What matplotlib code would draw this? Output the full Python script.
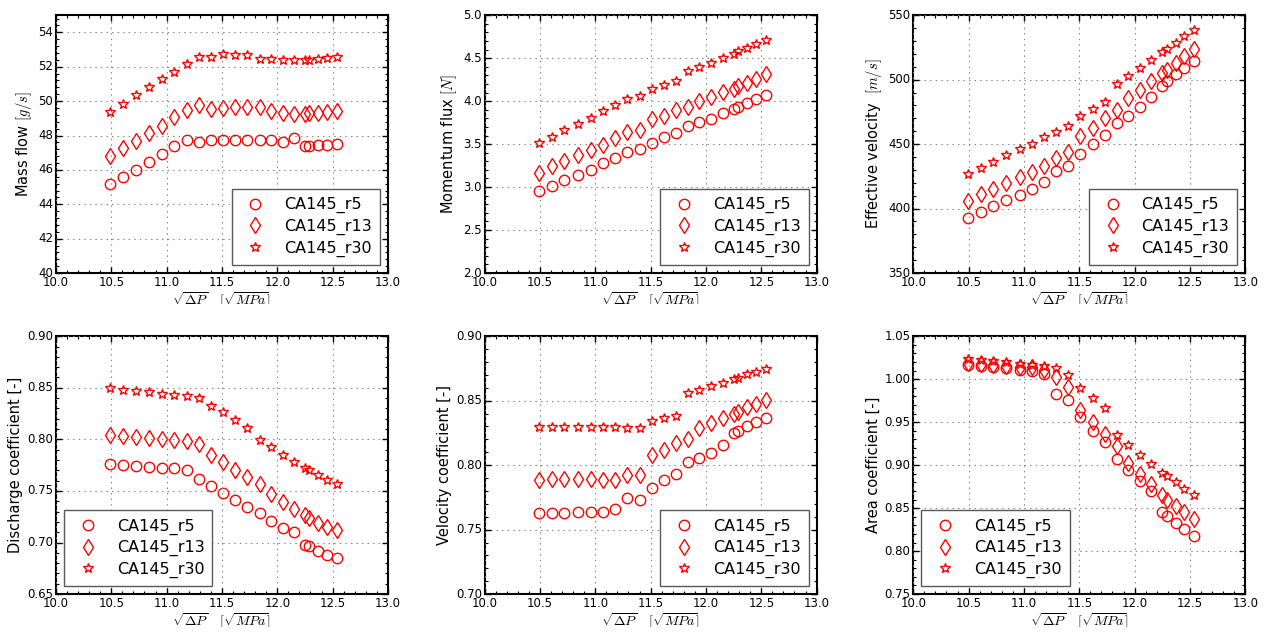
import matplotlib
matplotlib.use('Agg')
import matplotlib.pyplot as plt
from matplotlib.ticker import AutoMinorLocator
from matplotlib.transforms import Bbox, TransformedBbox

plt.style.use('classic')
plt.rcParams['figure.facecolor'] = 'white'
plt.rcParams['savefig.facecolor'] = 'white'
plt.rcParams['mathtext.fontset'] = 'cm'
plt.rcParams['font.family'] = ['DejaVu Sans']

# sqrt of pressure drop, same for every case
sqrt_dp = [10.49, 10.61, 10.72, 10.84, 10.96, 11.07, 11.18, 11.29, 11.40, 11.51, 11.62,
           11.73, 11.84, 11.94, 12.05, 12.15, 12.25, 12.29, 12.37, 12.45, 12.54]

cases = ['CA145_r5', 'CA145_r13', 'CA145_r30']

mass_r5 = [45.15, 45.57, 46.02, 46.45, 46.91, 47.38, 47.73, 47.63, 47.71, 47.71, 47.73,
           47.75, 47.73, 47.71, 47.61, 47.83, 47.38, 47.38, 47.42, 47.46, 47.51]
mass_r13 = [46.82, 47.26, 47.67, 48.16, 48.58, 49.09, 49.46, 49.79, 49.55, 49.61, 49.63,
            49.63, 49.63, 49.42, 49.32, 49.26, 49.26, 49.32, 49.32, 49.38, 49.44]
mass_r30 = [49.38, 49.84, 50.33, 50.82, 51.28, 51.71, 52.17, 52.54, 52.58, 52.72, 52.68,
            52.66, 52.45, 52.43, 52.39, 52.39, 52.39, 52.39, 52.45, 52.49, 52.54]

mom_r5 = [2.955, 3.013, 3.079, 3.145, 3.203, 3.277, 3.339, 3.409, 3.440, 3.513, 3.579,
          3.634, 3.707, 3.754, 3.793, 3.866, 3.913, 3.932, 3.983, 4.029, 4.072]
mom_r13 = [3.168, 3.242, 3.300, 3.370, 3.428, 3.494, 3.575, 3.638, 3.669, 3.789, 3.828,
           3.894, 3.932, 4.002, 4.049, 4.107, 4.138, 4.177, 4.216, 4.262, 4.321]
mom_r30 = [3.513, 3.587, 3.661, 3.738, 3.808, 3.882, 3.952, 4.022, 4.064, 4.142, 4.189,
           4.239, 4.348, 4.394, 4.449, 4.503, 4.549, 4.580, 4.619, 4.666, 4.716]

vel_r5 = [392.9, 397.6, 401.7, 406.4, 410.8, 415.2, 420.6, 429.2, 433.1, 442.1, 450.1,
          456.9, 466.2, 472.1, 478.6, 486.9, 495.4, 499.0, 504.5, 509.4, 514.6]
vel_r13 = [406.1, 411.3, 415.5, 420.1, 424.8, 428.7, 433.1, 439.5, 443.7, 456.3, 462.8,
           470.1, 476.3, 485.6, 492.0, 498.8, 505.2, 507.8, 513.0, 518.2, 523.6]
vel_r30 = [427.1, 431.8, 436.4, 441.6, 446.0, 450.4, 455.3, 459.4, 463.8, 471.6, 477.0,
           482.7, 496.7, 502.9, 509.1, 515.3, 521.3, 523.6, 528.5, 533.7, 538.4]

cd_r5 = [0.7761, 0.7752, 0.7745, 0.7735, 0.7726, 0.7719, 0.7700, 0.7613, 0.7551, 0.7480, 0.7409,
         0.7347, 0.7283, 0.7212, 0.7137, 0.7102, 0.6979, 0.6962, 0.6917, 0.6878, 0.6846]
cd_r13 = [0.8046, 0.8036, 0.8027, 0.8017, 0.8004, 0.7994, 0.7981, 0.7952, 0.7845, 0.7777, 0.7706,
          0.7638, 0.7564, 0.7470, 0.7389, 0.7325, 0.7263, 0.7234, 0.7192, 0.7153, 0.7121]
cd_r30 = [0.8495, 0.8483, 0.8470, 0.8457, 0.8444, 0.8428, 0.8418, 0.8402, 0.8327, 0.8263, 0.8188,
          0.8107, 0.7997, 0.7926, 0.7852, 0.7784, 0.7722, 0.7700, 0.7655, 0.7610, 0.7571]

cv_r5 = [0.7629, 0.7631, 0.7631, 0.7634, 0.7636, 0.7639, 0.7657, 0.7745, 0.7730, 0.7825, 0.7887,
         0.7929, 0.8025, 0.8053, 0.8094, 0.8157, 0.8252, 0.8265, 0.8301, 0.8335, 0.8369]
cv_r13 = [0.7887, 0.7890, 0.7890, 0.7890, 0.7890, 0.7885, 0.7885, 0.7921, 0.7926, 0.8076, 0.8115,
          0.8169, 0.8200, 0.8286, 0.8330, 0.8364, 0.8400, 0.8415, 0.8449, 0.8477, 0.8503]
cv_r30 = [0.8294, 0.8294, 0.8294, 0.8294, 0.8294, 0.8294, 0.8294, 0.8291, 0.8286, 0.8345, 0.8366,
          0.8384, 0.8558, 0.8583, 0.8612, 0.8640, 0.8666, 0.8677, 0.8705, 0.8726, 0.8749]

ca_r5 = [1.0162, 1.0151, 1.0139, 1.0127, 1.0108, 1.0100, 1.0057, 0.9829, 0.9763, 0.9561, 0.9394,
         0.9270, 0.9068, 0.8948, 0.8812, 0.8700, 0.8459, 0.8412, 0.8331, 0.8253, 0.8176]
ca_r13 = [1.0193, 1.0182, 1.0170, 1.0159, 1.0147, 1.0139, 1.0112, 1.0030, 0.9906, 0.9646, 0.9507,
          0.9359, 0.9227, 0.9025, 0.8894, 0.8777, 0.8653, 0.8599, 0.8521, 0.8455, 0.8378]
ca_r30 = [1.0236, 1.0221, 1.0209, 1.0197, 1.0182, 1.0166, 1.0151, 1.0131, 1.0054, 0.9899, 0.9778,
          0.9666, 0.9351, 0.9231, 0.9119, 0.9014, 0.8909, 0.8874, 0.8800, 0.8723, 0.8651]

# (values for r5/r13/r30, y label, y limits, legend location)
panels = [
    ((mass_r5, mass_r13, mass_r30), 'Mass flow $[g/s]$', (40, 55), 'lower right'),
    ((mom_r5, mom_r13, mom_r30), 'Momentum flux $[N]$', (2.0, 5.0), 'lower right'),
    ((vel_r5, vel_r13, vel_r30), 'Effective velocity  $[m/s]$', (350, 550), 'lower right'),
    ((cd_r5, cd_r13, cd_r30), 'Discharge coefficient [-]', (0.65, 0.90), 'lower left'),
    ((cv_r5, cv_r13, cv_r30), 'Velocity coefficient [-]', (0.70, 0.90), 'lower right'),
    ((ca_r5, ca_r13, ca_r30), 'Area coefficient [-]', (0.75, 1.05), 'lower left'),
]

markers = ['o', 'd', '*']
msizes = [7.5, 8.5, 7.5]

lefts = [0.044, 0.381, 0.718]
bottoms = [0.568, 0.060]
w, h = 0.261, 0.408
# each row's x label gets cut off at the bottom of its own tile
clip_y = [0.519, 0.008]

fig = plt.figure(figsize=(12.72, 6.32), dpi=100)

for i, (series, ylab, ylim, loc) in enumerate(panels):
    row, col = divmod(i, 3)
    ax = fig.add_axes([lefts[col], bottoms[row], w, h])
    for vals, name, m, ms in zip(series, cases, markers, msizes):
        ax.plot(sqrt_dp, vals, linestyle='none', marker=m, markersize=ms,
                markerfacecolor='none', markeredgecolor='red', markeredgewidth=1.0,
                label=name)
    ax.set_xlim(10.0, 13.0)
    ax.set_ylim(*ylim)
    ax.grid(True, linestyle=':', color='0.5', linewidth=0.8)
    ax.xaxis.set_minor_locator(AutoMinorLocator(5))
    ax.yaxis.set_minor_locator(AutoMinorLocator(5))
    ax.tick_params(labelsize=8.5, length=4, width=1, pad=2)
    ax.tick_params(which='minor', length=2, width=0.8)
    for sp in ax.spines.values():
        sp.set_linewidth(1.5)
    ax.set_ylabel(ylab, fontsize=10.5, labelpad=3)
    xl = ax.set_xlabel(r'$\sqrt{\Delta P}$   $[\sqrt{MPa}]$', fontsize=10, labelpad=1)
    xl.set_clip_box(TransformedBbox(Bbox([[0, clip_y[row]], [1, 1]]), fig.transFigure))
    xl.set_clip_on(True)
    leg = ax.legend(loc=loc, numpoints=1, fontsize=11.5, fancybox=False,
                    borderaxespad=0.5, handlelength=2.0, handletextpad=0.8,
                    labelspacing=0.35, borderpad=0.5)
    leg.get_frame().set_edgecolor('0.35')
    leg.get_frame().set_linewidth(1.0)

fig.savefig('out.png', dpi=100)
